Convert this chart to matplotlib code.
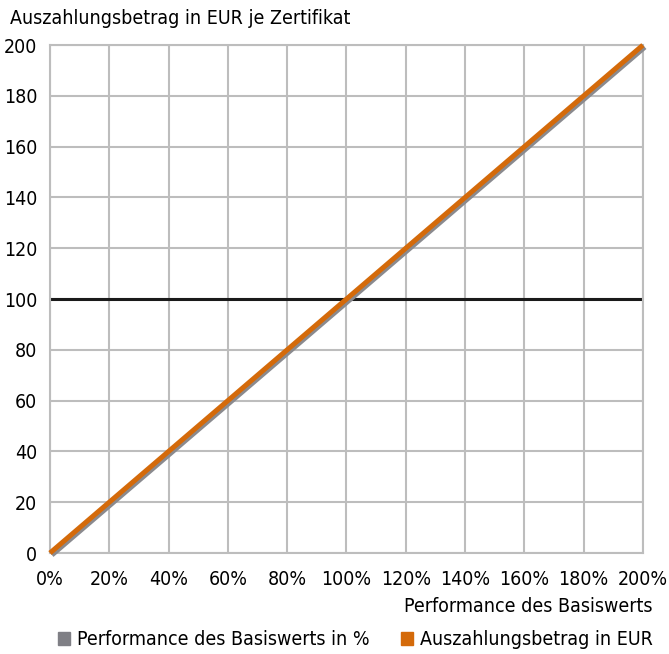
import matplotlib.pyplot as plt
import matplotlib.transforms as mtransforms
from matplotlib.patches import Patch

# data
perf = [0, 200]          # Performance des Basiswerts in %
payout = [0, 200]        # Auszahlungsbetrag in EUR
level = 100
xticks = [0, 20, 40, 60, 80, 100, 120, 140, 160, 180, 200]
yticks = [0, 20, 40, 60, 80, 100, 120, 140, 160, 180, 200]

plt.rcParams['font.family'] = ['DejaVu Sans']
plt.rcParams['font.stretch'] = 'condensed'
plt.rcParams['font.size'] = 14

fig = plt.figure(figsize=(6.69, 6.54), dpi=100)
ax = fig.add_axes([0.0747, 0.1544, 0.8863, 0.7766])

grid_c = '#bdbdbd'
ax.set_xlim(0, 200)
ax.set_ylim(0, 200)
ax.set_xticks(xticks)
ax.set_yticks(yticks)
ax.set_xticklabels([f'{t}%' for t in xticks])
ax.grid(True, color=grid_c, linewidth=1.5)
ax.set_axisbelow(True)
for s in ax.spines.values():
    s.set_color(grid_c)
    s.set_linewidth(1.5)
ax.tick_params(axis='x', length=0, pad=12, labelsize=14)
ax.tick_params(axis='y', length=0, pad=9, labelsize=14)

ax.axhline(level, color='#1a1a1a', linewidth=2.2, zorder=2)

# gray line slightly shifted down/right like a shadow
shift = mtransforms.ScaledTranslation(1.5/100, -1.5/100, fig.dpi_scale_trans)
ax.plot(perf, payout, color='#8a8a8e', linewidth=4.5, solid_capstyle='butt',
        transform=ax.transData + shift, zorder=3, clip_on=False)
ax.plot(perf, payout, color='#d46a0a', linewidth=3.6, solid_capstyle='butt',
        zorder=4, clip_on=False)

fig.text(0.015, 0.972, 'Auszahlungsbetrag in EUR je Zertifikat', fontsize=14,
         ha='left', va='center')
fig.text(0.976, 0.072, 'Performance des Basiswerts', fontsize=14,
         ha='right', va='center')

handles = [Patch(color='#7f7f85', label='Performance des Basiswerts in %'),
           Patch(color='#d46a0a', label='Auszahlungsbetrag in EUR')]
fig.legend(handles=handles, loc='center', bbox_to_anchor=(0.531, 0.022), ncol=2,
           frameon=False, fontsize=14, handlelength=0.62, handleheight=0.62,
           handletextpad=0.35, columnspacing=1.6)

fig.savefig('out.png', dpi=100)
